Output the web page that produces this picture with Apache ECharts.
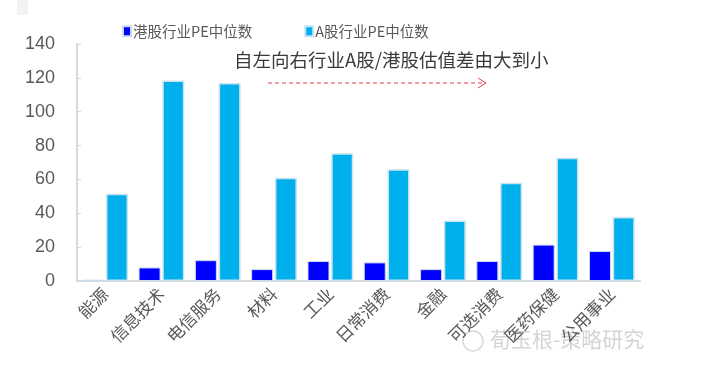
<!DOCTYPE html>
<html>
<head>
<meta charset="utf-8">
<script src="https://cdn.jsdelivr.net/npm/echarts@6/dist/echarts.min.js"></script>
<style>
html,body{margin:0;padding:0;background:#fff;}
#chart{width:708px;height:378px;}
</style>
</head>
<body>
<div id="chart"></div>
<script>
const categories = ['能源','信息技术','电信服务','材料','工业','日常消费','金融','可选消费','医药保健','公用事业'];
const hkPE = [0.8, 8, 12.3, 7, 11.8, 11, 7, 11.8, 21.5, 17.7];
const aPE = [51.6, 118.5, 117, 61, 75.5, 66, 35.7, 58, 72.8, 37.8];
const yTicks = [0, 20, 40, 60, 80, 100, 120, 140];
const seriesNames = ['港股行业PE中位数', 'A股行业PE中位数'];

const chart = echarts.init(document.getElementById('chart'), null, {renderer: 'canvas'});
const fontFam = 'Liberation Sans, Arial, "Noto Sans CJK SC", sans-serif';
const cjkFam = '"Noto Sans CJK SC", sans-serif';

chart.setOption({
  backgroundColor: '#ffffff',
  animation: false,
  grid: {left: 77, right: 68, top: 44, bottom: 97, containLabel: false},
  legend: {
    data: seriesNames,
    left: 117, top: 19,
    icon: 'rect', itemWidth: 8, itemHeight: 10, itemGap: 52,
    textStyle: {fontSize: 14.5, color: '#595959', fontFamily: cjkFam, padding: [0,0,0,-3]}
  },
  xAxis: {
    type: 'category',
    data: categories,
    axisLine: {lineStyle: {color: '#d9d9d9', width: 2}},
    axisTick: {show: false},
    axisLabel: {rotate: 45, fontSize: 17, color: '#595959', fontFamily: cjkFam, margin: 10, interval: 0}
  },
  yAxis: {
    type: 'value',
    min: yTicks[0], max: yTicks[yTicks.length-1], interval: 20,
    splitLine: {show: false},
    axisLine: {show: true, lineStyle: {color: '#d9d9d9', width: 2}},
    axisTick: {show: true, inside: true, length: 4, lineStyle: {color: '#d9d9d9'}},
    axisLabel: {fontSize: 18, color: '#595959', fontFamily: fontFam, margin: 22}
  },
  series: [
    {
      name: seriesNames[0], type: 'bar', data: hkPE,
      barWidth: 22, barGap: '8%',
      itemStyle: {color: '#0000ff', borderColor: '#c9dcef', borderWidth: 1}
    },
    {
      name: seriesNames[1], type: 'bar', data: aPE,
      barWidth: 22,
      itemStyle: {color: '#00b0ec', borderColor: '#c9e3ef', borderWidth: 1.5}
    }
  ],
  graphic: [
    {type: 'rect', shape: {x: 17, y: 0, width: 11, height: 15}, style: {fill: '#f2f2f2'}},
    {type: 'text', left: 234, top: 51,
     style: {text: '自左向右行业A股/港股估值差由大到小', fontSize: 18.5, fill: '#3a3a3a', fontFamily: cjkFam}},
    {type: 'line', shape: {x1: 268, y1: 83, x2: 486, y2: 83},
     style: {stroke: '#e5404e', lineWidth: 1, lineDash: [4, 3]}},
    {type: 'polyline', shape: {points: [[478, 78], [486, 83], [478, 88]]},
     style: {stroke: '#e5404e', lineWidth: 1, fill: null}},
    {type: 'circle', shape: {cx: 473, cy: 341, r: 10},
     style: {stroke: 'rgba(180,180,180,0.5)', lineWidth: 1.5, fill: null}},
    {type: 'text', left: 490, top: 329,
     style: {text: '荀玉根-策略研究', fontSize: 21, fill: 'rgba(170,170,170,0.5)', fontFamily: cjkFam}}
  ]
});
</script>
</body>
</html>
